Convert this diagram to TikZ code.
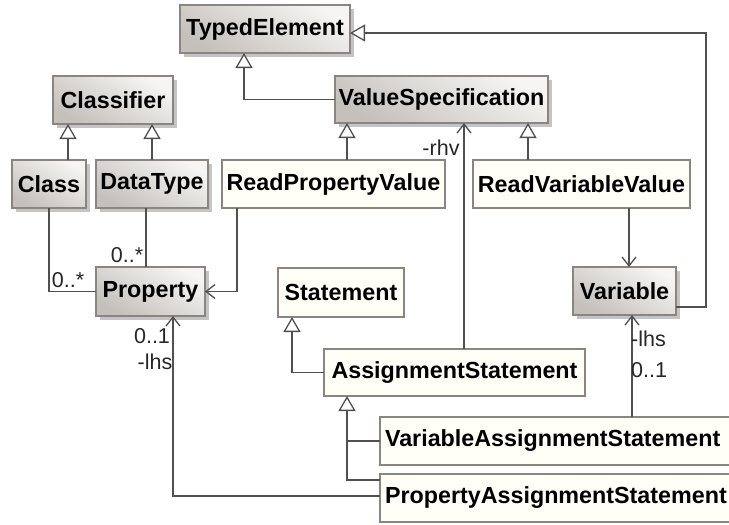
\documentclass[tikz,border=0pt]{standalone}
\usepackage{fontspec}
\setmainfont{Liberation Sans}
\usetikzlibrary{arrows.meta,shadows,calc}
\definecolor{bord}{HTML}{8A8580}
\definecolor{lnk}{HTML}{505050}
\definecolor{cream}{HTML}{FFFEF7}
\definecolor{shdark}{HTML}{C4C0BC}
\definecolor{shlight}{HTML}{F6F5F3}
\tikzset{
 cls/.style={draw=bord, line width=1.2pt, inner sep=0pt, outer sep=0pt,
   font=\fontsize{23.3}{27}\selectfont\bfseries, text=black},
 grayc/.style={cls, top color=shlight, bottom color=shdark, shading angle=-30,
   drop shadow={shadow xshift=4pt, shadow yshift=-4pt, fill=gray!65, opacity=0.7}},
 whitec/.style={cls, fill=cream},
 lbl/.style={font=\fontsize{21.5}{25}\selectfont, inner sep=0pt, text=black!85},
 link/.style={draw=lnk, line width=1.3pt},
 gen/.style={link, -{Triangle[width=17pt, length=15pt, fill=white]}},
 nav/.style={link, -{Straight Barb[width=14pt, length=9pt]}},
}
\begin{document}
\begin{tikzpicture}[x=1pt,y=-1pt]
\useasboundingbox (0,0) rectangle (729,525);
\fill[white] (0,0) rectangle (729,525);
\clip (0,0) rectangle (729,525);
% classes
\node[grayc, minimum width=170pt, minimum height=48pt] (te) at (265,29) {TypedElement};
\node[grayc, minimum width=213pt, minimum height=47pt] (vs) at (441.5,99.5) {ValueSpecification};
\node[grayc, minimum width=120pt, minimum height=48pt] (clf) at (113,100) {Classifier};
\node[grayc, minimum width=74pt, minimum height=48pt] (cls) at (49,184) {Class};
\node[grayc, minimum width=112pt, minimum height=48pt] (dt) at (152,184) {DataType};
\node[whitec, minimum width=223pt, minimum height=48pt] (rpv) at (333.5,184) {ReadPropertyValue};
\node[whitec, minimum width=217pt, minimum height=48pt] (rvv) at (581.5,184) {ReadVariableValue};
\node[grayc, minimum width=109pt, minimum height=49pt] (prop) at (150.5,291.5) {Property};
\node[whitec, minimum width=126pt, minimum height=49pt] (st) at (341,292.5) {Statement};
\node[grayc, minimum width=103pt, minimum height=48pt] (var) at (624.5,291) {Variable};
\node[whitec, minimum width=261pt, minimum height=47pt] (as) at (454.5,372.5) {AssignmentStatement};
\node[whitec, minimum width=380pt, minimum height=48pt, text width=370pt, align=left] (vas) at (570,441) {VariableAssignmentStatement};
\node[whitec, minimum width=380pt, minimum height=48pt, text width=370pt, align=left] (pas) at (570,498) {PropertyAssignmentStatement};
% generalizations
\draw[gen] (vs.west) -| ($(te.south west)+(64,0)$);
\coordinate (rt) at (706,33);
\draw[gen] ($(var.east)+(0,16)$) -| (rt) -- ($(te.east)+(0,4)$);
\draw[gen] ($(cls.north)+(19,0)$) -- ($(clf.south)+(-45,0)$);
\draw[gen] (dt.north) -- (dt.north |- clf.south);
\coordinate (p1) at ($(rpv.north)+(13.5,0)$);
\draw[gen] (p1) -- (p1 |- vs.south);
\coordinate (p2) at ($(rvv.north)+(-53.5,0)$);
\draw[gen] (p2) -- (p2 |- vs.south);
\draw[gen] (as.west) -| ($(st.south)+(-49,0)$);
\coordinate (gx) at ($(as.south)+(-107.5,0)$);
\draw[gen] (vas.west) -| (gx);
\draw[link] ($(pas.west)+(0,-18)$) -| (gx |- vas.west);
% associations
\draw[link] (cls.south) |- (prop.west);
\coordinate (p3) at ($(dt.south)+(-6,0)$);
\draw[link] (p3) -- (p3 |- prop.north);
\draw[nav] ($(rpv.south)+(-96.5,0)$) |- (prop.east);
\coordinate (p4) at ($(rvv.south)+(47.5,0)$);
\draw[nav] (p4) -- (p4 |- var.north);
\coordinate (p5) at ($(as.north)+(9.5,0)$);
\draw[nav] (p5) -- (p5 |- vs.south);
\coordinate (p6) at ($(vas.north)+(62,0)$);
\draw[nav] (p6) -- (p6 |- var.south);
\draw[nav] ($(pas.west)+(0,-2)$) -| ($(prop.south)+(22.5,0)$);
% labels
\node[lbl] (m1) at (68,280) {0..*};
\node[lbl] (m2) at (127,255) {0..*};
\node[lbl] (m3) at (152,336) {0..1};
\node[lbl] (m4) at (155,362) {-lhs};
\node[lbl] (m5) at (441,148) {-rhv};
\node[lbl, anchor=west] (m6) at (631,339) {-lhs};
\node[lbl, anchor=west] (m7) at (631,370) {0..1};
\end{tikzpicture}
\end{document}
